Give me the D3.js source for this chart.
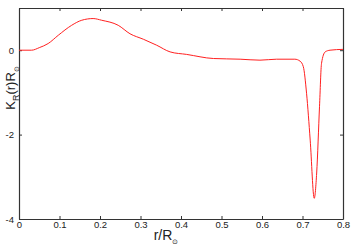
<!DOCTYPE html>
<html>
<head>
<meta charset="utf-8">
<script src="https://cdn.jsdelivr.net/npm/d3@7"></script>
<style>
  body { margin: 0; background: #fff; }
  text { font-family: "Liberation Sans", Arial, sans-serif; fill: #222; }
</style>
</head>
<body>
<svg id="chart" width="356" height="249"></svg>
<script>
// kernel K_R(r) R_sun vs r/R_sun
var radius = [0, 0.031, 0.05, 0.072, 0.097, 0.13, 0.155, 0.183, 0.204, 0.245, 0.274, 0.307,
  0.34, 0.373, 0.414, 0.48, 0.546, 0.595, 0.636, 0.681, 0.694, 0.702, 0.71, 0.719, 0.729,
  0.735, 0.742, 0.747, 0.756, 0.768, 0.8];
var kernel = [0, 0, 0.06, 0.158, 0.354, 0.59, 0.71, 0.75, 0.71, 0.59, 0.39, 0.26,
  0.118, -0.04, -0.1, -0.197, -0.213, -0.236, -0.213, -0.213, -0.26, -0.39, -1.02, -2.13, -3.51,
  -2.91, -1.34, -0.31, -0.04, 0, 0.02];
var xTicks = [0, 0.1, 0.2, 0.3, 0.4, 0.5, 0.6, 0.7, 0.8];
var xTickLabels = ["0", "0.1", "0.2", "0.3", "0.4", "0.5", "0.6", "0.7", "0.8"];
var yTicks = [-4, -2, 0];
var yTickLabels = ["-4", "-2", "0"];

var margin = {left: 19, right: 13, top: 8, bottom: 30};
var width = 356, height = 249;
var svg = d3.select("#chart");

var x = d3.scaleLinear().domain([0, 0.8]).range([margin.left, width - margin.right]);
var y = d3.scaleLinear().domain([-4, 1]).range([height - margin.bottom, margin.top]);

// frame with inward ticks on all four sides
var gx = svg.append("g").attr("transform", "translate(0," + y(-4) + ")")
  .call(d3.axisBottom(x).tickValues(xTicks).tickSizeInner(-3).tickSizeOuter(0)
    .tickFormat(function(d, i){ return xTickLabels[i]; }));
var gxt = svg.append("g").attr("transform", "translate(0," + y(1) + ")")
  .call(d3.axisTop(x).tickValues(xTicks).tickSizeInner(-3).tickSizeOuter(0).tickFormat(""));
var gy = svg.append("g").attr("transform", "translate(" + x(0) + ",0)")
  .call(d3.axisLeft(y).tickValues(yTicks).tickSizeInner(-3).tickSizeOuter(0)
    .tickFormat(function(d, i){ return yTickLabels[i]; }));
var gyr = svg.append("g").attr("transform", "translate(" + x(0.8) + ",0)")
  .call(d3.axisRight(y).tickValues(yTicks).tickSizeInner(-3).tickSizeOuter(0).tickFormat(""));

[gx, gxt, gy, gyr].forEach(function(g){
  g.select(".domain").attr("stroke", "#333").attr("stroke-width", 1.2);
  g.selectAll(".tick line").attr("stroke", "#333");
  g.selectAll(".tick text").attr("font-size", 9.5).attr("fill", "#222")
    .attr("font-family", "Liberation Sans, Arial, sans-serif");
});
gx.selectAll(".tick text").attr("dy", "0.1em").attr("y", 8);
gy.selectAll(".tick text").attr("x", -5);

// the curve
var line = d3.line()
  .x(function(d, i){ return x(radius[i]); })
  .y(function(d){ return y(d); })
  .curve(d3.curveMonotoneX);

svg.append("path")
  .datum(kernel)
  .attr("fill", "none")
  .attr("stroke", "#ff2020")
  .attr("stroke-width", 1)
  .attr("d", line);

// axis titles
var xl = svg.append("text")
  .attr("x", 166).attr("y", 240)
  .attr("text-anchor", "middle").attr("font-size", 14);
xl.append("tspan").text("r/R");
xl.append("tspan").attr("font-size", 7).attr("dy", 4).text("\u2299");

var yl = svg.append("text")
  .attr("transform", "translate(15,88) rotate(-90)")
  .attr("text-anchor", "middle").attr("font-size", 13);
yl.append("tspan").text("K");
yl.append("tspan").attr("font-size", 9).attr("dy", 4).text("R");
yl.append("tspan").attr("dy", -4).text("(r)R");
yl.append("tspan").attr("font-size", 7).attr("dy", 4).text("\u2299");
</script>
</body>
</html>
